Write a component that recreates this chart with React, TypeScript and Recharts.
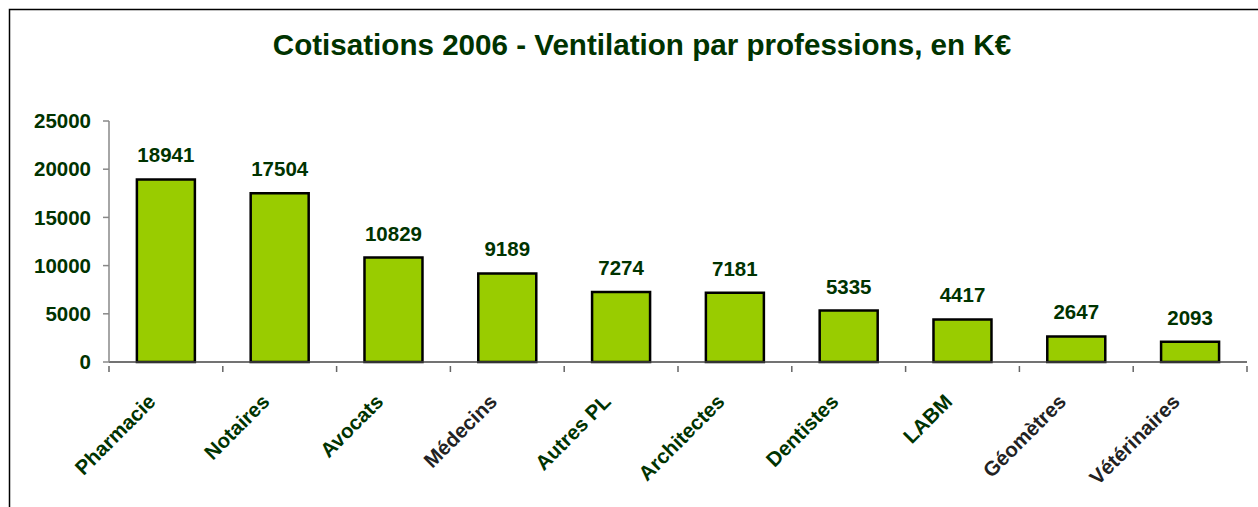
import React from 'react';
import { BarChart, Bar, XAxis, YAxis, LabelList } from 'recharts';

const categories = ['Pharmacie', 'Notaires', 'Avocats', 'Médecins', 'Autres PL', 'Architectes', 'Dentistes', 'LABM', 'Géomètres', 'Vétérinaires'];
const values = [18941, 17504, 10829, 9189, 7274, 7181, 5335, 4417, 2647, 2093];
const grayLabels = ['Médecins', 'Géomètres', 'Vétérinaires'];
const yTicks = [0, 5000, 10000, 15000, 20000, 25000];
const title = 'Cotisations 2006 - Ventilation par professions, en K€';

const data = categories.map((name, i) => ({ name, value: values[i] }));

const W = 1258;
const H = 507;
const PLOT_LEFT = 109;
const PLOT_RIGHT = 1247;
const BAND = (PLOT_RIGHT - PLOT_LEFT) / categories.length;
const GREEN = '#003300';
const FONT = '"Liberation Sans", Arial, sans-serif';

const XTick = (props: any) => {
  const { x, y, payload, index } = props;
  const isGray = grayLabels.includes(payload.value);
  const left = x - BAND / 2;
  const right = x + BAND / 2;
  const axisY = y - 2;
  return (
    <g>
      <line x1={left} y1={axisY} x2={left} y2={axisY + 6} stroke="#666" strokeWidth={1.5} />
      {index === categories.length - 1 && (
        <line x1={right} y1={axisY} x2={right} y2={axisY + 6} stroke="#666" strokeWidth={1.5} />
      )}
      <text
        x={x - 9}
        y={axisY + 37}
        textAnchor="end"
        transform={`rotate(-45, ${x - 9}, ${axisY + 37})`}
        fill={isGray ? '#222' : GREEN}
        fontSize={20.5}
        fontWeight="bold"
        fontFamily={FONT}
      >
        {payload.value}
      </text>
    </g>
  );
};

export default function App() {
  return (
    <div style={{ position: 'absolute', left: 0, top: 0, width: W, height: H, background: '#fff' }}>
      <svg width={W} height={H} style={{ position: 'absolute', left: 0, top: 0 }}>
        <rect x={9.5} y={9.5} width={W + 20} height={H + 20} fill="none" stroke="#000" strokeWidth={1.5} />
        <text x={642} y={55} textAnchor="middle" fill={GREEN} fontSize={29.6} fontWeight="bold" fontFamily={FONT}>
          {title}
        </text>
      </svg>
      <div style={{ position: 'absolute', left: 0, top: 0 }}>
        <BarChart
          width={W}
          height={H}
          data={data}
          margin={{ top: 121, left: 9, right: W - PLOT_RIGHT, bottom: 0 }}
          barCategoryGap="24.5%"
        >
          <XAxis
            dataKey="name"
            interval={0}
            tickLine={false}
            axisLine={{ stroke: '#444', strokeWidth: 1.5 }}
            tick={<XTick />}
            height={H - 121 - 241}
            tickMargin={0}
          />
          <YAxis
            width={100}
            domain={[0, 25000]}
            ticks={yTicks}
            interval={0}
            tickSize={6}
            tickMargin={12}
            axisLine={{ stroke: '#888', strokeWidth: 1.5 }}
            tickLine={{ stroke: '#888', strokeWidth: 1.5 }}
            tick={{ fill: GREEN, fontSize: 20.5, fontWeight: 'bold', fontFamily: FONT }}
          />
          <Bar dataKey="value" fill="#99CC00" stroke="#000" strokeWidth={2.5} isAnimationActive={false}>
            <LabelList
              dataKey="value"
              position="top"
              offset={17}
              fill={GREEN}
              fontSize={20.5}
              fontWeight="bold"
              fontFamily={FONT}
            />
          </Bar>
        </BarChart>
      </div>
    </div>
  );
}
